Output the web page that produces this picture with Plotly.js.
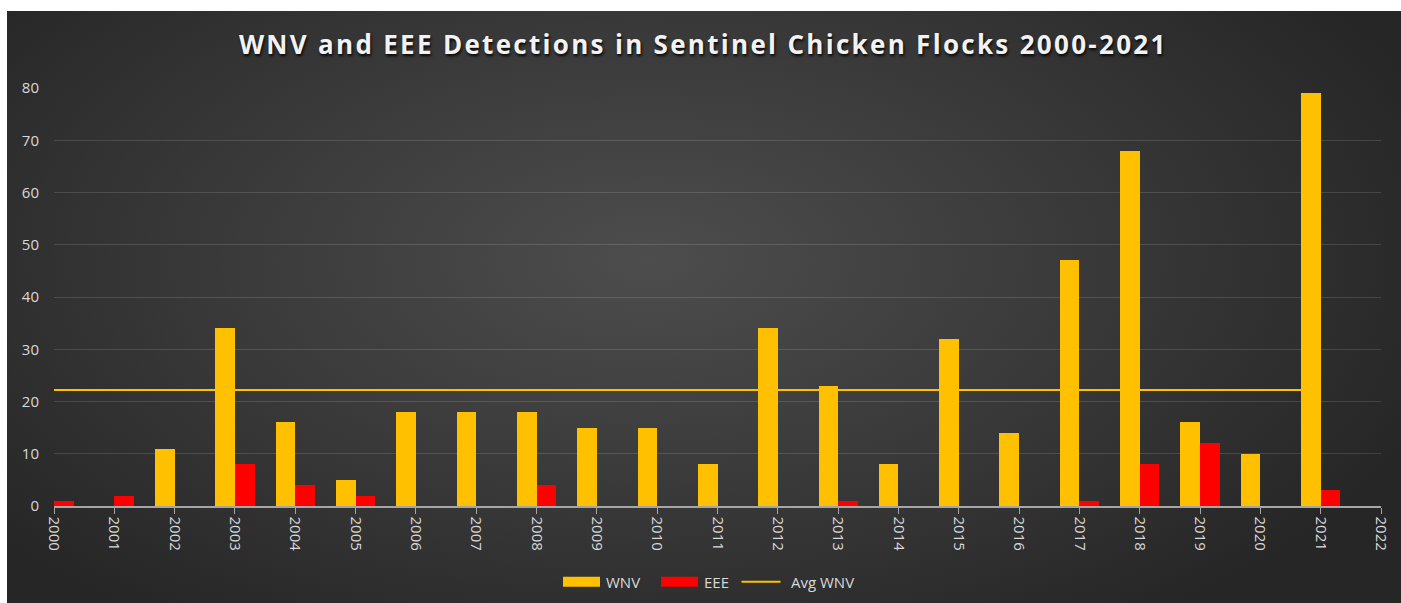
<!DOCTYPE html>
<html>
<head>
<meta charset="utf-8">
<script src="https://cdn.plot.ly/plotly-3.0.1.min.js"></script>
<style>
  html, body { margin: 0; padding: 0; background: #ffffff; width: 1401px; height: 603px; overflow: hidden; }
  #panel { position: absolute; left: 7px; top: 11px; width: 1394px; height: 592px;
    background: radial-gradient(ellipse 60% 75% at 46% 42%, #4d4d4d 0%, #3c3c3c 45%, #262626 100%); }
  #chart { position: absolute; left: 0; top: 0; width: 1401px; height: 603px; }
  #chart .gtitle { letter-spacing: 2.3px; }
</style>
</head>
<body>
<div id="panel"></div>
<div id="chart"></div>
<script>
const years = [2000,2001,2002,2003,2004,2005,2006,2007,2008,2009,2010,2011,2012,2013,2014,2015,2016,2017,2018,2019,2020,2021];
const wnv   = [0,0,11,34,16,5,18,18,18,15,15,8,34,23,8,32,14,47,68,16,10,79];
const eee   = [1,2,0,8,4,2,0,0,4,0,0,0,0,1,0,0,0,1,8,12,0,3];
const avgWnv = [22.2,22.2,22.2,22.2,22.2,22.2,22.2,22.2,22.2,22.2,22.2,22.2,22.2,22.2,22.2,22.2,22.2,22.2,22.2,22.2,22.2,22.2];
const tickYears = [2000,2001,2002,2003,2004,2005,2006,2007,2008,2009,2010,2011,2012,2013,2014,2015,2016,2017,2018,2019,2020,2021,2022];
const yTicks = [0,10,20,30,40,50,60,70,80];

const font = "Open Sans, Noto Sans, sans-serif";
const labelColor = "#d9d9d9";

const traces = [
  { type: 'bar', name: 'WNV', x: years, y: wnv, offset: -0.325, width: 0.325, legend: 'legend',
    marker: { color: '#FFC000', line: { width: 0 } } },
  { type: 'bar', name: 'EEE', x: years, y: eee, offset: 0, width: 0.325, legend: 'legend2',
    marker: { color: '#FF0000', line: { width: 0 } } },
  { type: 'scatter', mode: 'lines', name: 'Avg WNV', x: years, y: avgWnv, legend: 'legend3',
    line: { color: '#FFC000', width: 2 } }
];

function leg(px) {
  return { orientation: 'h', xref: 'container', x: px / 1401, xanchor: 'left',
    y: -0.182, yanchor: 'middle',
    font: { family: font, size: 15, color: labelColor }, bgcolor: 'rgba(0,0,0,0)', itemwidth: 40 };
}

const layout = {
  width: 1401, height: 603,
  paper_bgcolor: 'rgba(0,0,0,0)', plot_bgcolor: 'rgba(0,0,0,0)',
  margin: { l: 54, r: 20, t: 88, b: 97, autoexpand: false },
  title: { text: 'WNV and EEE Detections in Sentinel Chicken Flocks 2000-2021',
    x: 0.502, xref: 'container', xanchor: 'center', y: 0.925, yanchor: 'middle',
    font: { family: font, size: 26, color: '#f2f2f2', weight: 'bold',
            shadow: '1px 2px 3px rgba(0,0,0,0.9)' } },
  showlegend: true,
  legend: leg(556),
  legend2: leg(654),
  legend3: leg(741),
  xaxis: { type: 'linear', range: [2000, 2022], tickmode: 'array', tickvals: tickYears,
    ticktext: tickYears.map(String), tickangle: 90, ticks: 'outside', ticklen: 6,
    tickcolor: '#a6a6a6', showline: true, linecolor: '#a6a6a6', linewidth: 1.5,
    showgrid: false, zeroline: false,
    tickfont: { family: font, size: 15, color: labelColor } },
  yaxis: { range: [0, 80], tickmode: 'array', tickvals: yTicks, ticks: '',
    showgrid: true, gridcolor: 'rgba(255,255,255,0.13)', gridwidth: 1,
    zeroline: false, showline: false, ticklabelstandoff: 14,
    tickfont: { family: font, size: 15, color: labelColor } },
  bargap: 0
};

Plotly.newPlot('chart', traces, layout, { displayModeBar: false, staticPlot: true }).then(function (gd) {
  // widen legend swatches to match the reference's wide rectangles / longer line
  gd.querySelectorAll('.legendpoints path').forEach(function (p) {
    p.setAttribute('d', 'M-18,-5h37v10h-37z');
  });
  gd.querySelectorAll('.legendlines path').forEach(function (p) {
    p.setAttribute('d', 'M0.5,0h39');
  });
});
</script>
</body>
</html>
